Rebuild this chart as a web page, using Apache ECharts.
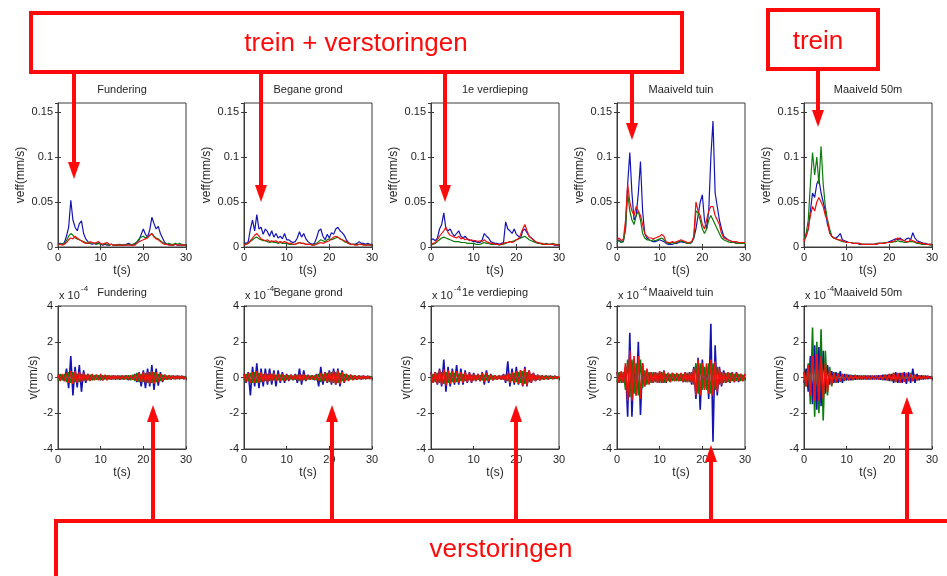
<!DOCTYPE html>
<html>
<head>
<meta charset="utf-8">
<title>Trillingsmetingen</title>
<script src="https://cdn.jsdelivr.net/npm/echarts@6.0.0/dist/echarts.min.js"></script>
<style>
  html, body { margin: 0; padding: 0; background: #ffffff; }
  #chart { width: 947px; height: 576px; }
</style>
</head>
<body>
<div id="chart"></div>
<script>
// Sample times in seconds (0.5 s apart)
const timeS = [0,0.5,1,1.5,2,2.5,3,3.5,4,4.5,5,5.5,6,6.5,7,7.5,8,8.5,9,9.5,
  10,10.5,11,11.5,12,12.5,13,13.5,14,14.5,15,15.5,16,16.5,17,17.5,18,18.5,19,19.5,
  20,20.5,21,21.5,22,22.5,23,23.5,24,24.5,25,25.5,26,26.5,27,27.5,28,28.5,29,29.5,30];

const locations = ['Fundering', 'Begane grond', '1e verdieping', 'Maaiveld tuin', 'Maaiveld 50m'];

const xTicks = [0, 10, 20, 30];
const veffTicks = [0, 0.05, 0.1, 0.15];
const vTicks = [-4, -2, 0, 2, 4];

// Effective velocity per channel, in µm/s (shown in mm/s)
const veffFunderingBlue  = [3,4,3,5,12,22,52,30,22,18, 26,29,15,9,6,4,3,4,3,5, 3,2,3,2,2,3,2,2,2,3, 2,2,3,4,3,2,3,5,8,14, 20,14,11,19,33,26,20,23,15,10, 5,3,3,2,2,3,2,2,2,2,2];
const veffFunderingGreen = [2,4,3,4,7,12,15,13,10,9, 8,7,6,5,4,4,5,4,3,4, 3,3,4,3,2,3,2,2,3,2, 2,3,2,3,2,3,4,6,9,11, 12,10,11,13,15,12,10,9,7,5, 4,3,4,3,3,4,3,4,3,2,2];
const veffFunderingRed   = [2,3,2,3,5,8,10,9,12,10, 8,7,5,4,4,6,5,4,5,6, 4,3,4,5,3,3,2,2,2,2, 2,2,2,2,2,2,2,4,6,7, 8,9,10,13,15,11,9,8,6,4, 3,3,2,2,2,3,2,2,2,2,2];

const veffBeganeBlue  = [5,4,6,20,30,18,36,20,22,14, 20,17,12,18,11,15,10,12,9,15, 8,8,6,5,6,10,17,11,15,9, 6,4,3,4,10,18,20,12,8,14, 10,16,14,20,22,18,16,13,8,5, 3,3,3,4,6,4,4,3,4,3,3];
const veffBeganeGreen = [3,3,4,6,8,10,11,9,8,7, 7,6,5,6,5,5,4,5,4,4, 4,3,3,3,3,4,5,4,4,3, 3,3,2,3,4,6,8,7,6,8, 9,8,9,10,11,9,8,6,5,4, 3,3,3,3,3,3,3,2,3,2,2];
const veffBeganeRed   = [2,3,4,7,10,13,15,12,9,8, 7,8,6,7,6,7,5,6,5,6, 5,4,4,3,3,4,5,4,4,3, 3,3,2,2,3,4,5,4,5,6, 7,9,11,12,11,9,8,7,6,4, 3,3,2,2,3,3,2,2,2,2,2];

const veffVerdiepingBlue  = [8,9,7,10,20,25,38,20,18,20, 15,12,15,18,12,10,12,9,8,7, 6,6,5,5,8,15,12,10,6,5, 4,4,3,4,5,28,20,18,15,20, 14,12,10,18,20,16,12,10,8,5, 5,4,4,3,3,3,3,3,2,2,2];
const veffVerdiepingGreen = [3,3,4,6,8,10,11,10,9,8, 7,6,6,6,5,5,5,4,4,4, 4,3,3,3,4,5,4,4,3,3, 3,3,2,3,3,4,5,6,6,7, 8,9,10,11,12,10,8,7,6,5, 4,4,3,3,4,3,3,4,3,3,2];
const veffVerdiepingRed   = [3,4,5,8,12,15,18,22,16,13, 12,11,10,12,9,10,8,9,7,8, 7,7,6,7,6,8,6,5,4,4, 3,3,3,3,4,5,5,6,5,6, 8,9,14,20,25,18,12,10,8,6, 5,4,4,3,3,3,3,3,3,2,2];

const veffTuinBlue  = [6,8,5,7,20,70,105,60,30,35, 60,95,40,15,10,8,7,6,6,7, 8,7,6,4,3,3,3,4,4,5, 6,5,5,4,4,5,10,20,35,50, 58,30,20,40,100,140,60,45,30,20, 12,10,8,7,6,5,4,5,5,4,4];
const veffTuinGreen = [6,7,5,6,20,60,40,30,25,35, 40,30,15,10,8,8,7,8,7,8, 9,10,8,5,4,4,5,4,5,6, 7,6,5,4,4,5,10,40,38,30, 20,15,20,30,35,30,25,20,15,10, 8,7,6,5,5,5,4,4,4,4,4];
const veffTuinRed   = [8,10,7,9,30,70,50,40,35,45, 40,35,25,15,12,10,10,9,10,11, 12,14,12,6,5,5,6,5,6,7, 8,7,6,5,5,6,12,50,40,35, 25,20,30,40,45,45,35,30,25,15, 10,9,8,7,6,6,6,5,5,5,5];

const veff50mBlue  = [8,12,20,40,60,55,70,75,60,50, 40,25,18,12,10,10,12,15,8,7, 6,5,5,4,4,4,3,3,3,3, 3,3,3,3,3,4,4,4,5,5, 6,7,8,9,8,10,8,7,9,10, 8,16,10,7,6,5,4,4,3,3,3];
const veff50mGreen = [8,15,30,70,105,80,100,70,112,70, 45,30,20,12,10,9,8,7,6,6, 5,5,5,4,4,4,4,3,3,3, 3,3,3,3,4,4,4,4,5,5, 5,5,6,6,7,6,6,5,5,6, 6,6,5,4,4,3,3,3,3,2,2];
const veff50mRed   = [6,12,20,35,45,40,50,55,50,45, 35,30,15,12,10,9,8,8,7,6, 5,5,5,4,4,4,4,3,3,3, 3,3,3,3,3,4,4,4,4,5, 5,6,6,8,10,8,8,7,6,6, 8,7,6,5,5,4,4,3,3,3,3];

// Velocity per channel, in units of 10^-4 mm/s
const vFunderingBlue  = [0.1,-0.15,0.12,-0.2,0.5,-0.6,1.2,-1.0,0.6,-0.55, 0.7,-0.8,0.4,-0.3,0.2,-0.15,0.15,-0.12,0.15,-0.1, 0.12,-0.15,0.1,-0.12,0.1,-0.1,0.12,-0.1,0.1,-0.12, 0.1,-0.1,0.12,-0.15,0.1,-0.12,0.2,-0.25,0.3,-0.5, 0.4,-0.6,0.5,-0.5,0.7,-0.7,0.5,-0.45,0.3,-0.25, 0.15,-0.12,0.1,-0.1,0.1,-0.08,0.1,-0.08,0.08,-0.08,0.06];
const vFunderingGreen = [-0.15,0.2,-0.15,0.2,-0.25,0.3,-0.3,0.3,-0.25,0.2, -0.25,0.2,-0.2,0.15,-0.15,0.15,-0.15,0.12,-0.12,0.12, -0.15,0.12,-0.1,0.12,-0.1,0.1,-0.1,0.1,-0.1,0.1, -0.1,0.1,-0.1,0.12,-0.15,0.15,-0.2,0.25,-0.25,0.2, -0.25,0.25,-0.3,0.3,-0.3,0.3,-0.25,0.2,-0.2,0.15, -0.12,0.1,-0.1,0.1,-0.08,0.08,-0.08,0.08,-0.06,0.06,-0.05];
const vFunderingRed   = [0.15,-0.2,0.2,-0.2,0.25,-0.3,0.35,-0.35,0.35,-0.3, 0.3,-0.25,0.25,-0.2,0.2,-0.2,0.2,-0.15,0.15,-0.15, 0.2,-0.15,0.15,-0.15,0.12,-0.12,0.12,-0.1,0.1,-0.1, 0.1,-0.1,0.1,-0.1,0.12,-0.12,0.15,-0.2,0.25,-0.25, 0.3,-0.3,0.3,-0.35,0.35,-0.35,0.3,-0.25,0.2,-0.2, 0.15,-0.12,0.12,-0.1,0.1,-0.1,0.1,-0.08,0.08,-0.08,0.06];

const vBeganeBlue  = [0.2,-0.3,0.3,-1.0,0.6,-0.5,0.8,-0.6,0.5,-0.5, 0.5,-0.4,0.5,-0.4,0.4,-0.5,0.4,-0.3,0.3,-0.3, 0.2,-0.2,0.15,-0.15,0.2,-0.3,0.5,-0.4,0.4,-0.2, 0.15,-0.1,0.12,-0.15,0.2,-0.5,0.6,-0.4,0.3,-0.3, 0.4,-0.4,0.5,-0.4,0.5,-0.5,0.4,-0.3,0.2,-0.15, 0.15,-0.12,0.12,-0.1,0.1,-0.1,0.1,-0.08,0.08,-0.06,0.06];
const vBeganeGreen = [-0.15,0.2,-0.2,0.25,-0.3,0.3,-0.3,0.25,-0.25,0.2, -0.2,0.2,-0.2,0.2,-0.15,0.15,-0.15,0.15,-0.15,0.12, -0.12,0.12,-0.1,0.1,-0.12,0.15,-0.2,0.15,-0.15,0.12, -0.1,0.1,-0.1,0.1,-0.15,0.2,-0.25,0.2,-0.2,0.25, -0.25,0.3,-0.3,0.3,-0.3,0.25,-0.2,0.2,-0.15,0.12, -0.1,0.1,-0.1,0.08,-0.08,0.08,-0.08,0.06,-0.06,0.06,-0.05];
const vBeganeRed   = [0.2,-0.25,0.25,-0.3,0.3,-0.3,0.35,-0.3,0.3,-0.25, 0.25,-0.25,0.25,-0.2,0.25,-0.2,0.2,-0.2,0.2,-0.2, 0.15,-0.15,0.15,-0.12,0.15,-0.15,0.2,-0.2,0.2,-0.15, 0.12,-0.12,0.1,-0.12,0.15,-0.2,0.25,-0.2,0.25,-0.25, 0.3,-0.3,0.35,-0.4,0.4,-0.35,0.3,-0.25,0.2,-0.2, 0.15,-0.15,0.12,-0.12,0.1,-0.1,0.1,-0.08,0.08,-0.08,0.06];

const vVerdiepingBlue  = [0.3,-0.3,0.3,-0.4,0.5,-0.5,1.0,-0.8,0.6,-0.5, 0.5,-0.4,0.7,-0.4,0.5,-0.4,0.4,-0.3,0.3,-0.3, 0.25,-0.2,0.2,-0.2,0.3,-0.4,0.4,-0.3,0.2,-0.15, 0.12,-0.1,0.1,-0.12,0.2,-0.3,0.9,-0.5,0.5,-0.4, 0.6,-0.4,0.4,-0.5,0.6,-0.5,0.4,-0.3,0.25,-0.2, 0.15,-0.15,0.12,-0.1,0.1,-0.1,0.1,-0.08,0.08,-0.06,0.06];
const vVerdiepingGreen = [-0.2,0.2,-0.25,0.25,-0.3,0.3,-0.35,0.3,-0.3,0.25, -0.25,0.25,-0.25,0.2,-0.2,0.2,-0.2,0.15,-0.15,0.15, -0.15,0.12,-0.12,0.12,-0.15,0.15,-0.15,0.12,-0.1,0.1, -0.1,0.08,-0.08,0.1,-0.12,0.15,-0.2,0.2,-0.2,0.25, -0.25,0.3,-0.3,0.35,-0.35,0.3,-0.25,0.2,-0.15,0.12, -0.12,0.1,-0.1,0.08,-0.08,0.08,-0.06,0.06,-0.06,0.05,-0.05];
const vVerdiepingRed   = [0.25,-0.3,0.3,-0.35,0.4,-0.4,0.45,-0.45,0.4,-0.35, 0.35,-0.3,0.35,-0.3,0.3,-0.3,0.3,-0.25,0.25,-0.25, 0.2,-0.2,0.2,-0.2,0.25,-0.25,0.25,-0.2,0.15,-0.15, 0.12,-0.12,0.12,-0.12,0.15,-0.2,0.25,-0.3,0.3,-0.3, 0.35,-0.35,0.4,-0.45,0.5,-0.45,0.4,-0.3,0.25,-0.2, 0.15,-0.15,0.12,-0.12,0.1,-0.1,0.08,-0.08,0.08,-0.06,0.06];

const vTuinBlue  = [0.3,-0.3,0.3,-0.3,0.6,-2.2,2.5,-2.2,1.0,-1.0, 2.0,-2.1,0.8,-0.5,0.4,-0.3,0.3,-0.3,0.3,-0.3, 0.3,-0.3,0.4,-0.3,0.25,-0.25,0.25,-0.2,0.2,-0.2, 0.2,-0.25,0.3,-0.25,0.3,-0.4,0.6,-1.2,1.1,-1.8, 1.0,-0.6,0.6,-1.2,3.0,-3.6,1.8,-1.0,0.6,-0.5, 0.4,-0.3,0.3,-0.3,0.3,-0.25,0.3,-0.25,0.2,-0.2,0.2];
const vTuinGreen = [-0.25,0.3,-0.3,0.3,-0.7,1.0,-1.1,1.0,-0.9,0.8, -1.0,1.0,-0.6,0.4,-0.4,0.3,-0.3,0.3,-0.25,0.25, -0.3,0.3,-0.3,0.2,-0.2,0.2,-0.2,0.2,-0.2,0.2, -0.2,0.2,-0.25,0.25,-0.25,0.3,-0.4,0.8,-0.9,0.8, -0.7,0.6,-0.7,0.8,-0.9,0.8,-0.7,0.6,-0.4,0.3, -0.3,0.25,-0.25,0.25,-0.2,0.2,-0.2,0.2,-0.2,0.15,-0.15];
const vTuinRed   = [0.3,-0.3,0.35,-0.3,0.8,-1.3,1.5,-1.3,1.2,-1.0, 1.2,-1.2,0.8,-0.5,0.5,-0.4,0.3,-0.3,0.3,-0.3, 0.35,-0.3,0.35,-0.25,0.25,-0.25,0.25,-0.2,0.25,-0.2, 0.25,-0.25,0.3,-0.25,0.25,-0.3,0.5,-1.0,1.0,-1.0, 0.8,-0.7,0.8,-0.9,1.0,-1.0,0.9,-0.8,0.5,-0.4, 0.3,-0.3,0.3,-0.25,0.25,-0.25,0.25,-0.2,0.2,-0.2,0.2];

const v50mBlue  = [-0.3,0.5,-0.8,1.2,-1.5,1.8,-1.8,1.7,-1.6,1.5, -0.9,0.7,-0.4,0.35,-0.3,0.3,-0.3,0.35,-0.3,0.2, -0.15,0.15,-0.15,0.12,-0.12,0.12,-0.1,0.1,-0.1,0.1, -0.1,0.1,-0.1,0.1,-0.1,0.12,-0.12,0.15,-0.15,0.15, -0.2,0.2,-0.3,0.3,-0.3,0.25,-0.3,0.3,-0.35,0.3, -0.3,0.5,-0.3,0.2,-0.15,0.12,-0.1,0.1,-0.08,0.06,-0.06];
const v50mGreen = [0.3,-0.5,0.8,-1.5,2.8,-2.2,2.0,-2.0,2.7,-2.4, 1.5,-1.0,0.6,-0.5,0.3,-0.3,0.25,-0.25,0.2,-0.2, 0.2,-0.15,0.15,-0.15,0.15,-0.12,0.12,-0.12,0.12,-0.1, 0.1,-0.1,0.1,-0.1,0.12,-0.12,0.12,-0.15,0.15,-0.15, 0.2,-0.2,0.25,-0.25,0.2,-0.25,0.25,-0.2,0.2,-0.2, 0.25,-0.2,0.15,-0.15,0.12,-0.1,0.1,-0.08,0.08,-0.06,0.06];
const v50mRed   = [0.3,-0.5,0.7,-1.0,1.2,-1.3,1.3,-1.3,1.2,-1.2, 0.8,-0.8,0.4,-0.4,0.25,-0.25,0.2,-0.2,0.2,-0.15, 0.15,-0.15,0.12,-0.12,0.12,-0.1,0.1,-0.1,0.1,-0.1, 0.1,-0.1,0.1,-0.1,0.1,-0.12,0.12,-0.12,0.15,-0.15, 0.2,-0.2,0.25,-0.25,0.25,-0.3,0.25,-0.25,0.25,-0.2, 0.2,-0.2,0.15,-0.15,0.12,-0.1,0.1,-0.08,0.08,-0.06,0.06];

// Channel order per panel: blue, green, red
const veffPanels = [
  [veffFunderingBlue, veffFunderingGreen, veffFunderingRed],
  [veffBeganeBlue, veffBeganeGreen, veffBeganeRed],
  [veffVerdiepingBlue, veffVerdiepingGreen, veffVerdiepingRed],
  [veffTuinBlue, veffTuinGreen, veffTuinRed],
  [veff50mBlue, veff50mGreen, veff50mRed]
];
const vPanels = [
  [vFunderingBlue, vFunderingGreen, vFunderingRed],
  [vBeganeBlue, vBeganeGreen, vBeganeRed],
  [vVerdiepingBlue, vVerdiepingGreen, vVerdiepingRed],
  [vTuinBlue, vTuinGreen, vTuinRed],
  [v50mBlue, v50mGreen, v50mRed]
];

const channelColors = ['#1414b4', '#0c7c0c', '#f01010'];
const AXIS = '#3a3a3a';
const TEXT = '#1e1e1e';
const FONT = '"Liberation Sans", Arial, Helvetica, sans-serif';
const ANNO = '#ff0a0a';

// Layout of the 2 x 5 small multiples
const panelLeft = [58, 244, 431, 617, 804];
const panelWidth = 128;
const rows = [
  { top: 103, height: 144, min: 0, max: 0.16, interval: 0.05, yName: 'veff(mm/s)', yGap: 31,
    panels: veffPanels, scale: 0.001, ticks: veffTicks, lineWidth: 1.2 },
  { top: 306, height: 143, min: -4, max: 4, interval: 2, yName: 'v(mm/s)', yGap: 18,
    panels: vPanels, scale: 1, ticks: vTicks, lineWidth: 1.6 }
];

const grid = [], xAxis = [], yAxis = [], series = [], graphic = [];
const labelStyle = { color: TEXT, fontSize: 11, fontFamily: FONT };

rows.forEach((row, r) => {
  panelLeft.forEach((left, p) => {
    const g = grid.length;
    grid.push({
      left: left, top: row.top, width: panelWidth, height: row.height,
      show: true, borderColor: AXIS, borderWidth: 1, backgroundColor: 'transparent'
    });
    // bottom / left axes with labels
    xAxis.push({
      type: 'value', gridIndex: g, position: 'bottom',
      min: xTicks[0], max: xTicks[xTicks.length - 1], interval: xTicks[1] - xTicks[0],
      name: 't(s)', nameLocation: 'middle', nameGap: 18,
      nameTextStyle: { color: TEXT, fontSize: 12, fontFamily: FONT },
      axisLine: { show: true, onZero: false, lineStyle: { color: AXIS, width: 1 } },
      axisTick: { show: true, inside: true, length: 3, lineStyle: { color: AXIS } },
      axisLabel: Object.assign({ margin: 5 }, labelStyle),
      splitLine: { show: false }
    });
    // top mirror axis (ticks only)
    xAxis.push({
      type: 'value', gridIndex: g, position: 'top',
      min: xTicks[0], max: xTicks[xTicks.length - 1], interval: xTicks[1] - xTicks[0],
      axisLine: { show: false },
      axisTick: { show: true, inside: true, length: 3, lineStyle: { color: AXIS } },
      axisLabel: { show: false }, splitLine: { show: false }
    });
    yAxis.push({
      type: 'value', gridIndex: g, position: 'left',
      min: row.min, max: row.max, interval: row.interval,
      name: row.yName, nameLocation: 'middle', nameGap: row.yGap,
      nameTextStyle: { color: TEXT, fontSize: 12, fontFamily: FONT },
      axisLine: { show: true, onZero: false, lineStyle: { color: AXIS, width: 1 } },
      axisTick: { show: true, inside: true, length: 3, lineStyle: { color: AXIS } },
      axisLabel: Object.assign({ margin: 5, showMaxLabel: row.max === row.ticks[row.ticks.length - 1] }, labelStyle),
      splitLine: { show: false }
    });
    yAxis.push({
      type: 'value', gridIndex: g, position: 'right',
      min: row.min, max: row.max, interval: row.interval,
      axisLine: { show: false },
      axisTick: { show: true, inside: true, length: 3, lineStyle: { color: AXIS } },
      axisLabel: { show: false }, splitLine: { show: false }
    });

    row.panels[p].forEach((values, c) => {
      series.push({
        type: 'line',
        xAxisIndex: 2 * g, yAxisIndex: 2 * g,
        data: timeS.map((t, i) => [t, values[i] * row.scale]),
        showSymbol: false, symbol: 'none', silent: true,
        lineStyle: { color: channelColors[c], width: row.lineWidth },
        itemStyle: { color: channelColors[c] },
        animation: false, z: 2 + c
      });
    });

    // panel title
    const cx = left + panelWidth / 2;
    graphic.push({
      type: 'text', z: 50,
      style: {
        text: locations[p], x: cx, y: row.top - 13,
        fill: TEXT, fontSize: 11, fontFamily: FONT,
        align: 'center', verticalAlign: 'middle',
        textAlign: 'center', textVerticalAlign: 'middle'
      }
    });
    if (r === 1) {
      // axis multiplier "x 10^-4"
      graphic.push({
        type: 'text', z: 50,
        style: { text: 'x 10', x: left + 1, y: row.top - 10, fill: TEXT, fontSize: 11, fontFamily: FONT,
          align: 'left', verticalAlign: 'middle', textAlign: 'left', textVerticalAlign: 'middle' }
      });
      graphic.push({
        type: 'text', z: 50,
        style: { text: '-4', x: left + 23, y: row.top - 17, fill: TEXT, fontSize: 8, fontFamily: FONT,
          align: 'left', verticalAlign: 'middle', textAlign: 'left', textVerticalAlign: 'middle' }
      });
    }
  });
});

// Callout boxes and arrows
function box(x, y, w, h, label, fontSize) {
  graphic.push({
    type: 'rect', z: 100,
    shape: { x: x, y: y, width: w, height: h },
    style: { fill: 'transparent', stroke: ANNO, lineWidth: 4 }
  });
  if (label) {
    graphic.push({
      type: 'text', z: 101,
      style: { text: label.text, x: label.x, y: label.y, fill: ANNO, fontSize: fontSize, fontFamily: FONT,
        align: 'center', verticalAlign: 'middle', textAlign: 'center', textVerticalAlign: 'middle' }
    });
  }
}
function arrow(x, yStart, yTip) {
  const dir = yTip > yStart ? 1 : -1;
  const headLen = 17, headHalf = 6;
  const yBase = yTip - dir * headLen;
  graphic.push({
    type: 'line', z: 100,
    shape: { x1: x, y1: yStart, x2: x, y2: yBase },
    style: { stroke: ANNO, lineWidth: 4 }
  });
  graphic.push({
    type: 'polygon', z: 100,
    shape: { points: [[x - headHalf, yBase], [x + headHalf, yBase], [x, yTip]] },
    style: { fill: ANNO }
  });
}

box(31, 13, 651, 59, { text: 'trein + verstoringen', x: 356, y: 44 }, 26);
box(768, 10, 110, 59, { text: 'trein', x: 818, y: 42 }, 26);
box(56, 521, 960, 120, { text: 'verstoringen', x: 501, y: 550 }, 26);

arrow(74, 72, 179);
arrow(261, 72, 202);
arrow(445, 72, 202);
arrow(632, 72, 140);
arrow(818, 69, 127);

arrow(153, 520, 405);
arrow(332, 520, 405);
arrow(516, 520, 405);
arrow(711, 520, 445);
arrow(907, 520, 397);

const chart = echarts.init(document.getElementById('chart'), null, { renderer: 'canvas' });
chart.setOption({
  animation: false,
  backgroundColor: '#ffffff',
  grid: grid,
  xAxis: xAxis,
  yAxis: yAxis,
  series: series,
  graphic: graphic
});
</script>
</body>
</html>
